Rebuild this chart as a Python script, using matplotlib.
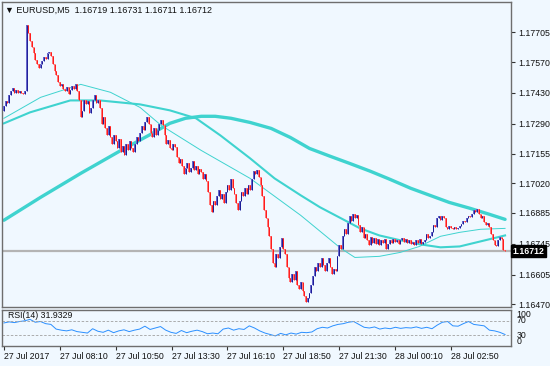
import numpy as np
import matplotlib
matplotlib.use("Agg")
import matplotlib.pyplot as plt
from matplotlib.transforms import blended_transform_factory

# ---------------- data ----------------
title_text = "\u25bc EURUSD,M5  1.16719 1.16731 1.16711 1.16712"
rsi_title = "RSI(14) 31.9329"
base_price = 1.16          # prices below are in points above this base (1 point = 0.00001)
open_first = 1350
closes_pts = [
    1370, 1395, 1385, 1420, 1440, 1452, 1430, 1445, 1428, 1440, 1432, 1425,   # 0-11
    1440, 1740, 1700, 1665, 1640, 1610, 1580, 1560, 1545, 1560, 1575, 1595,   # 12-23
    1585, 1610, 1618, 1600, 1560, 1530, 1510, 1480, 1460, 1470, 1450, 1440,   # 24-35
    1455, 1425, 1445, 1460, 1450, 1470, 1440, 1400, 1320, 1350, 1400, 1380,   # 36-47
    1395, 1340, 1360, 1400, 1420, 1385, 1400, 1360, 1290, 1320, 1270, 1240,   # 48-59
    1280, 1230, 1200, 1240, 1210, 1180, 1220, 1160, 1190, 1150, 1200, 1170,   # 60-71
    1210, 1180, 1160, 1200, 1230, 1210, 1250, 1280, 1260, 1300, 1320, 1290,   # 72-83
    1250, 1230, 1270, 1240, 1260, 1290, 1305, 1285, 1240, 1200, 1215, 1180,   # 84-95
    1170, 1200, 1185, 1140, 1110, 1130, 1100, 1060, 1090, 1110, 1070, 1090,   # 96-107
    1120, 1080, 1100, 1060, 1085, 1070, 1040, 1060, 1030, 980, 920, 890,      # 108-119
    940, 920, 960, 990, 950, 970, 930, 980, 1010, 990, 1040, 1000,            # 120-131
    970, 930, 900, 940, 980, 960, 1000, 970, 1010, 990, 1040, 1075,           # 132-143
    1060, 1080, 1050, 1010, 960, 900, 860, 820, 780, 720, 660, 640,           # 144-155
    700, 680, 730, 770, 720, 700, 640, 590, 570, 610, 580, 620,               # 156-167
    560, 540, 570, 530, 510, 480, 500, 520, 560, 600, 640, 620,               # 168-179
    660, 640, 680, 650, 620, 660, 680, 640, 610, 630, 620, 690,               # 180-191
    740, 720, 780, 810, 790, 840, 870, 850, 880, 860, 875, 830,               # 192-203
    800, 820, 770, 790, 760, 740, 775, 750, 770, 745, 765, 740,               # 204-215
    760, 750, 765, 720, 745, 760, 750, 765, 755, 760, 745, 760,               # 216-227
    770, 755, 765, 750, 760, 745, 755, 740, 760, 750, 765, 745,               # 228-239
    755, 760, 790, 770, 780, 800, 830, 820, 860, 870, 855, 870,               # 240-251
    860, 820, 810, 825, 815, 810, 820, 812, 818, 825, 835, 850,               # 252-263
    845, 860, 870, 865, 880, 900, 890, 905, 880, 860, 870, 845,               # 264-275
    830, 840, 820, 790, 760, 740, 735, 760, 775, 765, 719, 712,               # 276-287
]

# moving averages (bar index, points above base)
ma_fast_bars = [0, 21, 44, 61, 78, 90, 113, 141, 170, 193, 201, 215, 227, 238, 250, 261, 273, 287]
ma_fast_pts = [1315, 1410, 1469, 1433, 1364, 1283, 1169, 1042, 874, 724, 683, 688, 706, 733, 779, 797, 811, 815]
ma_mid_bars = [0, 15, 38, 55, 78, 95, 110, 124, 141, 155, 170, 181, 193, 204, 215, 227, 238, 250, 261, 273, 287]
ma_mid_pts = [1292, 1342, 1396, 1396, 1378, 1351, 1315, 1237, 1133, 1042, 965, 911, 861, 815, 783, 761, 743, 729, 733, 756, 783]
ma_slow_bars = [0, 21, 44, 67, 84, 95, 104, 113, 121, 130, 141, 153, 164, 175, 187, 198, 210, 221, 233, 244, 255, 267, 278, 287]
ma_slow_pts = [852, 956, 1065, 1169, 1242, 1292, 1315, 1324, 1324, 1315, 1296, 1269, 1228, 1178, 1142, 1110, 1074, 1038, 997, 965, 933, 906, 879, 856]

rsi_vals = [
    64, 67, 65, 68, 70, 74, 66, 68, 62, 60, 47, 44, 42, 45, 40, 38, 36, 48, 41, 38,
    44, 37, 42, 45, 40, 44, 47, 55, 46, 50, 54, 44, 38, 35, 43, 37, 41, 44, 40, 34,
    36, 34, 47, 50, 44, 48, 46, 56, 50, 42, 36, 32, 28, 35, 31, 36, 33, 38, 37, 39,
    48, 52, 50, 56, 60, 62, 66, 68, 60, 52, 50, 53, 47, 50, 48, 52, 49, 51, 50, 53,
    49, 52, 48, 58, 66, 68, 56, 55, 62, 68, 60, 58, 56, 44, 42, 38, 31.9329,
]
rsi_levels = [30, 70]

price_ticks = [1.17705, 1.17570, 1.17430, 1.17290, 1.17155, 1.17020, 1.16885, 1.16745, 1.16605, 1.16470]
time_labels = ["27 Jul 2017", "27 Jul 08:10", "27 Jul 10:50", "27 Jul 13:30", "27 Jul 16:10",
               "27 Jul 18:50", "27 Jul 21:30", "28 Jul 00:10", "28 Jul 02:50"]
time_label_bars = [0, 32, 64, 96, 128, 160, 192, 224, 256]
last_price = 1.16712

# ---------------- drawing ----------------
BG = "#f0f8ff"
FONT = ["Liberation Sans", "DejaVu Sans"]
plt.rcParams["font.family"] = FONT

path = np.array([open_first] + closes_pts, dtype=float)
opens = base_price + path[:-1] / 1e5
closes = base_price + path[1:] / 1e5
n = len(closes)
x = np.arange(n)

W, H = 550, 366
fig = plt.figure(figsize=(W / 100, H / 100), dpi=100, facecolor=BG)
ax = fig.add_axes([2 / W, 1 - 307 / H, 509 / W, 305 / H], facecolor=BG)
rax = fig.add_axes([2 / W, 1 - 346 / H, 509 / W, 36 / H], facecolor=BG)

xmin, xmax = -1.1, n - 1 + 3.4
for a in (ax, rax):
    a.set_xlim(xmin, xmax)
    for s in a.spines.values():
        s.set_color("#6e6e6e")
        s.set_linewidth(1.0)

# current price line
ax.axhline(last_price, color="#b4b4b4", lw=1.6, zorder=1)

# moving averages
ma_col = "#3fd3cf"
ax.plot(ma_slow_bars, base_price + np.array(ma_slow_pts) / 1e5, color=ma_col, lw=2.4, zorder=2,
        solid_capstyle="round")
ax.plot(ma_mid_bars, base_price + np.array(ma_mid_pts) / 1e5, color=ma_col, lw=1.5, zorder=2)
ax.plot(ma_fast_bars, base_price + np.array(ma_fast_pts) / 1e5, color=ma_col, lw=0.7, zorder=2)

# candles
bull = closes >= opens
lo = np.minimum(opens, closes)
hi = np.maximum(opens, closes)
body_col = np.where(bull, "#6666cc", "#ff7676")
edge_col = np.where(bull, "#1c1c96", "#ff1a1a")
ax.bar(x, hi - lo, bottom=lo, width=1.0, color=body_col, linewidth=0, zorder=3)
ax.vlines(x, lo, hi, colors=edge_col, lw=0.7, zorder=4)

ax.set_ylim(1.16458, 1.17843)
ax.yaxis.tick_right()
ax.set_yticks(price_ticks)
ax.set_yticklabels([f"{v:.5f}" for v in price_ticks])
ax.tick_params(axis="y", length=3, width=0.8, color="#333333", labelsize=6.3, pad=2,
               labelcolor="#111111")
ax.tick_params(axis="x", length=0, labelbottom=False)
ax.set_xticks([])

# last price box
trans = blended_transform_factory(ax.transAxes, ax.transData)
ax.text(1.003, last_price, f"{last_price:.5f}", transform=trans, ha="left", va="center",
        fontsize=6.3, color="white", fontweight="bold",
        bbox=dict(boxstyle="square,pad=0.18", fc="black", ec="black"), zorder=10, clip_on=False)

fig.text(5 / W, 1 - 10 / H, title_text, fontsize=6.5, ha="left", va="center", color="#111111")

# RSI panel
rx = np.linspace(0, n - 1, len(rsi_vals))
rax.plot(rx, rsi_vals, color="#2a8fff", lw=0.7)
for lv in rsi_levels:
    rax.axhline(lv, color="#a0a0a0", lw=0.6, ls=(0, (3, 2)))
rax.set_ylim(0, 100)
rax.yaxis.tick_right()
rax.set_yticks([0, 30, 70, 100])
rax.set_yticklabels(["0", "30", "70", "100"])
rax.tick_params(axis="y", length=0, labelsize=6.3, pad=4, labelcolor="#111111")
for lab, va in zip(rax.get_yticklabels(), ["bottom", "center", "center", "top"]):
    lab.set_va(va)
rax.text(6 / 509, 0.86, rsi_title, transform=rax.transAxes, fontsize=6.3, ha="left", va="center",
         color="#111111")

rax.set_xticks(time_label_bars)
rax.set_xticklabels(time_labels)
rax.tick_params(axis="x", length=3, width=0.8, color="#333333", labelsize=6.3, pad=1.5,
                labelcolor="#111111")
for lab in rax.get_xticklabels():
    lab.set_ha("left")

fig.savefig("out.png", dpi=100, facecolor=BG)
